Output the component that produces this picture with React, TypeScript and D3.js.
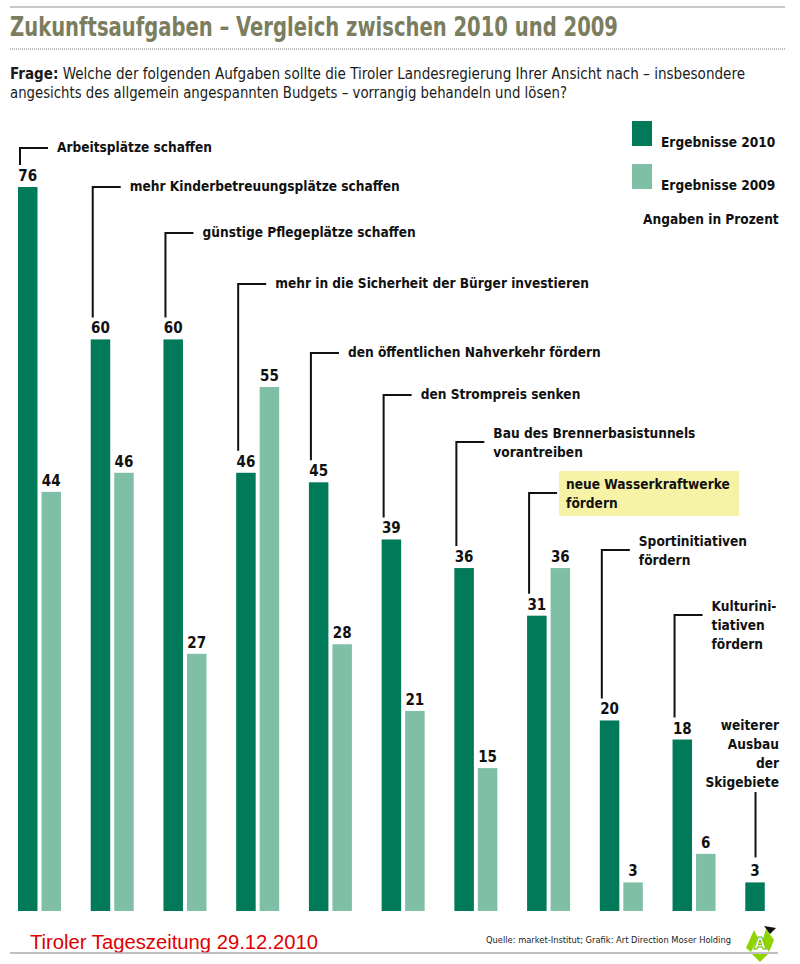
import * as d3 from "d3";

// categories (label lines) and the two survey series, in percent
const categories: string[][] = [
  ["Arbeitsplätze schaffen"],
  ["mehr Kinderbetreuungsplätze schaffen"],
  ["günstige Pflegeplätze schaffen"],
  ["mehr in die Sicherheit der Bürger investieren"],
  ["den öffentlichen Nahverkehr fördern"],
  ["den Strompreis senken"],
  ["Bau des Brennerbasistunnels", "vorantreiben"],
  ["neue Wasserkraftwerke", "fördern"],
  ["Sportinitiativen", "fördern"],
  ["Kulturini-", "tiativen", "fördern"],
  ["weiterer", "Ausbau", "der", "Skigebiete"],
];
const values2010 = [76, 60, 60, 46, 45, 39, 36, 31, 20, 18, 3];
const values2009: (number | null)[] = [44, 46, 27, 55, 28, 21, 15, 36, 3, 6, null];
const seriesNames = ["Ergebnisse 2010", "Ergebnisse 2009"];

const TITLE = "Zukunftsaufgaben – Vergleich zwischen 2010 und 2009";
const QUESTION = [
  "Welche der folgenden Aufgaben sollte die Tiroler Landesregierung Ihrer Ansicht nach – insbesondere",
  "angesichts des allgemein angespannten Budgets – vorrangig behandeln und lösen?",
];
const UNIT_NOTE = "Angaben in Prozent";
const SOURCE = "Quelle: market-Institut; Grafik: Art Direction Moser Holding";
const CREDIT = "Tiroler Tageszeitung 29.12.2010";

// layout: y of the leader line elbow for each category label
const leaderY = [148, 187, 233, 284, 353, 395, 442, 493, 550, 615, 725];
const HIGHLIGHT = 7;

const W = 800;
const H = 964;
const DARK = "#007a58";
const LIGHT = "#7fbfa6";
const LABEL_SIZE = 13.6;
const narrow = "'Liberation Sans Narrow', 'DejaVu Sans Condensed', sans-serif";
const boldFont = "'DejaVu Sans Condensed', 'Liberation Sans Narrow', sans-serif";

export default function App() {
  const ids = categories.map((_, i) => String(i));

  const x = d3.scaleBand().domain(ids).range([18, 818]).paddingInner(0).paddingOuter(0);
  const xSub = d3.scaleBand().domain(seriesNames).range([0, 43]).paddingInner(0.17);
  const y = d3.scaleLinear().domain([0, 76]).range([911, 187]);

  const bars = ids.map((id, i) => {
    const gx = x(id) ?? 0;
    const pairs: [string, number | null, string][] = [
      [seriesNames[0], values2010[i], DARK],
      [seriesNames[1], values2009[i], LIGHT],
    ];
    return (
      <g key={id}>
        {pairs.map(([s, v, c]) =>
          v == null ? null : (
            <g key={s}>
              <rect
                x={gx + (xSub(s) ?? 0)}
                y={y(v)}
                width={xSub.bandwidth()}
                height={y(0) - y(v)}
                fill={c}
              />
              <text
                x={gx + (xSub(s) ?? 0) + xSub.bandwidth() / 2}
                y={y(v) - 6}
                textAnchor="middle"
                fontFamily={boldFont}
                fontWeight="bold"
                fontSize={15}
                fill="#111"
              >
                {v}
              </text>
            </g>
          )
        )}
      </g>
    );
  });

  const labels = ids.map((id, i) => {
    const lines = categories[i];
    const barTop = y(values2010[i]);
    const last = i === ids.length - 1;
    if (last) {
      const cx = (x(id) ?? 0) + xSub.bandwidth() / 2 + 0.5;
      const textRight = 779;
      const n = lines.length;
      return (
        <g key={id}>
          {lines.map((l, k) => (
            <text
              key={k}
              x={textRight}
              y={leaderY[i] + k * 19 + 5}
              textAnchor="end"
              fontFamily={boldFont}
              fontWeight="bold"
              fontSize={LABEL_SIZE}
              fill="#111"
            >
              {l}
            </text>
          ))}
          <line
            x1={cx}
            x2={cx}
            y1={leaderY[i] + (n - 1) * 19 + 10}
            y2={barTop - 25}
            stroke="#111"
            strokeWidth={2}
          />
        </g>
      );
    }
    const lx = (x(id) ?? 0) + 2;
    const ly = leaderY[i];
    const tx = lx + 37;
    const firstCenter = lines.length > 1 ? ly - 9 : ly - 1;
    return (
      <g key={id}>
        {i === HIGHLIGHT && (
          <rect x={tx - 7} y={firstCenter - 13} width={180} height={45} fill="#f7f3a6" />
        )}
        <path
          d={`M${lx + 28},${ly} H${lx} V${barTop - 22}`}
          fill="none"
          stroke="#111"
          strokeWidth={2}
        />
        {lines.map((l, k) => (
          <text
            key={k}
            x={tx}
            y={firstCenter + k * 19 + 5}
            fontFamily={boldFont}
            fontWeight="bold"
            fontSize={LABEL_SIZE}
            fill="#111"
          >
            {l}
          </text>
        ))}
      </g>
    );
  });

  return (
    <svg
      width={W}
      height={H}
      style={{ position: "absolute", left: 0, top: 0, background: "#fff" }}
    >
      <line x1={10} x2={785} y1={7} y2={7} stroke="#c8c8c8" strokeWidth={2} />
      <text
        x={10}
        y={36}
        fontFamily={boldFont}
        fontWeight="bold"
        fontSize={26}
        fill="#7b7d5f"
        textLength={608}
        lengthAdjust="spacingAndGlyphs"
      >
        {TITLE}
      </text>
      <line
        x1={10}
        x2={785}
        y1={49}
        y2={49}
        stroke="#777"
        strokeWidth={1}
        strokeDasharray="1,1"
      />
      <text x={10} y={79} fontFamily={narrow} fontSize={16} fill="#1a1a1a" textLength={735} lengthAdjust="spacingAndGlyphs">
        <tspan fontWeight="bold">Frage:</tspan> {QUESTION[0]}
      </text>
      <text x={10} y={98} fontFamily={narrow} fontSize={16} fill="#1a1a1a" textLength={557} lengthAdjust="spacingAndGlyphs">
        {QUESTION[1]}
      </text>

      {/* legend */}
      {seriesNames.map((s, i) => (
        <g key={s}>
          <rect x={632} y={121 + i * 43} width={20} height={25} fill={i === 0 ? DARK : LIGHT} />
          <text
            x={661}
            y={147 + i * 43}
            fontFamily={boldFont}
            fontWeight="bold"
            fontSize={LABEL_SIZE}
            fill="#111"
          >
            {s}
          </text>
        </g>
      ))}
      <text x={643} y={224} fontFamily={boldFont} fontWeight="bold" fontSize={LABEL_SIZE} fill="#111">
        {UNIT_NOTE}
      </text>

      {labels}
      {bars}

      {/* footer */}
      <text
        x={30}
        y={949}
        fontFamily="'Liberation Sans', Arial, sans-serif"
        fontSize={19.5}
        fill="#e00000"
        textLength={288}
        lengthAdjust="spacingAndGlyphs"
      >
        {CREDIT}
      </text>
      <text x={486} y={943} fontFamily={narrow} fontSize={9.5} fill="#222" textLength={245} lengthAdjust="spacingAndGlyphs">
        {SOURCE}
      </text>
      <line x1={10} x2={778} y1={953} y2={953} stroke="#aaa" strokeWidth={1.5} />
      <g transform="translate(760,942)">
        <path d="M-14,6 L-6,-12 L-2,-4 L-9,10 Z" fill="#8fd400" />
        <path d="M6,-13 L14,-2 L9,10 L2,0 Z" fill="#8fd400" />
        <path d="M-8,12 L8,12 L0,20 Z" fill="#8fd400" />
        <text x={0} y={7} textAnchor="middle" fontFamily="'DejaVu Sans', sans-serif" fontWeight="bold" fontSize={16} fill="#fff" stroke="#6cbf00" strokeWidth={1}>
          A
        </text>
        <path d="M4,-16 L16,-14 L10,-8 Z" fill="#111" />
      </g>
    </svg>
  );
}
